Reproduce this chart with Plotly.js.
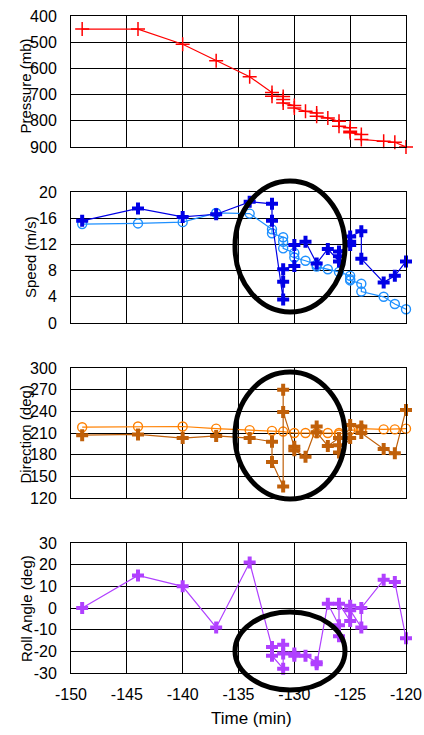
<!DOCTYPE html>
<html><head><meta charset="utf-8">
<script src="https://cdn.plot.ly/plotly-3.0.1.min.js"></script>
<style>
html,body{margin:0;padding:0;background:#fff}
#chart{width:424px;height:735px}
</style>
</head><body><div id="chart"></div>
<script>
// ---- data ----
const pressTime = [-149,-144,-140,-137,-134,-132,-132,-131,-131,-131,-130,-130,-129,-128,-128,-127,-126,-126,-125,-125,-125,-124,-124,-122,-121,-120];
const pressure  = [450,450,508,571,632,692,706,707,719,732,742,751,764,770,783,789,802,821,827,840,846,852,871,878,882,900];

const speedTimeA = [-149,-144,-140,-137,-134,-132,-132,-131,-131,-131,-130,-130,-129,-128,-127,-126,-126,-126,-125,-125,-125,-124,-124,-122,-121,-120];
const speedA     = [15.6,17.5,16.2,16.6,18.5,18.2,15.6,3.6,6.3,8.2,8.7,11.9,12.4,9.1,11.3,9.4,10.2,10.9,11.9,12.4,13.2,14.0,9.8,6.2,7.2,9.4];
const speedTimeB = [-149,-144,-140,-137,-134,-132,-132,-131,-131,-131,-130,-130,-129,-128,-128,-127,-126,-125,-125,-125,-124,-124,-122,-121,-120];
const speedB     = [15.1,15.2,15.4,16.8,16.7,14.3,13.7,13.1,12.4,11.4,10.7,10.0,9.5,8.9,8.6,8.2,7.8,7.2,6.7,6.5,6.0,4.8,4.0,2.9,2.1];

const dirTimeA = [-149,-144,-140,-137,-134,-132,-132,-131,-131,-131,-130,-130,-129,-128,-128,-127,-126,-126,-126,-125,-125,-124,-124,-122,-121,-120];
const dirA     = [207,208,203,206,203,198,170,136,270,239,191,186,177,219,211,192,203,193,183,203,221,219,210,188,182,242];
const dirTimeB = [-149,-144,-140,-137,-134,-132,-131,-130,-129,-128,-127,-126,-126,-125,-124,-124,-122,-121,-120];
const dirB     = [218,219,219,216,214,213,212,210,210,210,210,210,208,214,214,216,215,215,216];

const rollTime = [-149,-144,-140,-137,-134,-132,-132,-131,-131,-131,-130,-130,-129,-128,-128,-127,-126,-126,-126,-125,-125,-125,-124,-124,-122,-121,-120];
const roll     = [0,15,10,-9,21,-18,-22,-28,-17,-21,-21,-22,-22,-25,-26,2,-8,-13,2,-6,1,-1,-9,0,13,12,-14];

const xTicks = [-150,-145,-140,-135,-130,-125,-120];
const pTicks = [400,500,600,700,800,900];
const sTicks = [0,4,8,12,16,20];
const dTicks = [120,150,180,210,240,270,300];
const rTicks = [-30,-20,-10,0,10,20,30];

const titles = ['Pressure (mb)', 'Speed (m/s)', 'Direction (deg)', 'Roll Angle (deg)', 'Time (min)'];

// ---- helpers ----
const FONT = 'Liberation Sans, Arial, sans-serif';
const lbl = v => String(v);   // plain hyphen-minus like the original

function line(x, y, xa, ya, color, symbol, size, lw) {
  return {type:'scatter', mode:'lines+markers', x:x, y:y, xaxis:xa, yaxis:ya,
    line:{color:color, width:1.2}, cliponaxis:false,
    marker:{symbol:symbol, size:size, color:color, line:{color:color, width:lw}}};
}
const traces = [
  line(pressTime, pressure, 'x', 'y', '#ff0000', 'cross-thin-open', 10, 1.5),
  line(speedTimeB, speedB, 'x2', 'y2', '#1e90ff', 'circle-open', 9, 1.4),
  line(speedTimeA, speedA, 'x2', 'y2', '#0000e6', 'cross', 10, 0),
  line(dirTimeB, dirB, 'x3', 'y3', '#ff8000', 'circle-open', 9, 1.4),
  line(dirTimeA, dirA, 'x3', 'y3', '#c0600a', 'cross', 10, 0),
  line(rollTime, roll, 'x4', 'y4', '#b040ff', 'cross', 10, 0)
];

function xa(anchor, showLabels) {
  return {anchor:anchor, range:[-150,-120], tickmode:'array', tickvals:xTicks, ticktext:xTicks.map(lbl),
    showticklabels:showLabels, showgrid:true, gridcolor:'#000', gridwidth:1,
    showline:true, linecolor:'#000', linewidth:1, mirror:true, zeroline:false, ticks:'',
    ticklabelstandoff:7, ticklabeloverflow:'allow', tickfont:{family:FONT, size:16, color:'#000'}, fixedrange:true};
}
function ya(anchor, domain, range, ticks) {
  return {anchor:anchor, domain:domain, range:range, tickmode:'array', tickvals:ticks, ticktext:ticks.map(lbl),
    showgrid:true, gridcolor:'#000', gridwidth:1, showline:true, linecolor:'#000', linewidth:1,
    mirror:true, zeroline:false, ticks:'', ticklabelstandoff:10, ticklabeloverflow:'allow',
    tickfont:{family:FONT, size:16, color:'#000'}, fixedrange:true};
}

const H = 657, W = 335;
const py = p => (673 - p) / H;
const px = p => (p - 71) / W;
function ell(x0, x1, y0, y1) {
  return {type:'circle', xref:'paper', yref:'paper', x0:px(x0), x1:px(x1), y0:py(y1), y1:py(y0),
    line:{color:'#000', width:5}, layer:'above'};
}
function ytitle(text, xc, yc) {
  return {text:text, xref:'paper', yref:'paper', x:px(xc), y:py(yc), xanchor:'center', yanchor:'middle',
    textangle:-90, showarrow:false, font:{family:FONT, size:15, color:'#000'}};
}

const layout = {
  width:424, height:735, margin:{l:71, r:18, t:16, b:62},
  paper_bgcolor:'#fff', plot_bgcolor:'#fff', showlegend:false,
  font:{family:FONT, color:'#000'},
  xaxis: xa('y', false),
  xaxis2: xa('y2', false),
  xaxis3: xa('y3', false),
  xaxis4: xa('y4', true),
  yaxis: ya('x', [py(147), 1], [900, 400], pTicks),
  yaxis2: ya('x2', [py(323), py(192)], [0, 20], sTicks),
  yaxis3: ya('x3', [py(498), py(368)], [120, 300], dTicks),
  yaxis4: ya('x4', [0, py(543)], [-30, 30], rTicks),
  annotations: [
    ytitle(titles[0], 24.5, 86),
    ytitle(titles[1], 30, 257),
    ytitle(titles[2], 24.5, 435),
    ytitle(titles[3], 26, 609),
    {text:titles[4], xref:'paper', yref:'paper', x:px(251), y:py(719), xanchor:'center', yanchor:'middle',
     showarrow:false, font:{family:FONT, size:17, color:'#000'}}
  ],
  shapes: [ell(235, 345, 181, 312), ell(235, 345, 372, 499), ell(235, 345, 612, 690)]
};

Plotly.newPlot('chart', traces, layout, {displayModeBar:false, staticPlot:true});
</script>
</body></html>
